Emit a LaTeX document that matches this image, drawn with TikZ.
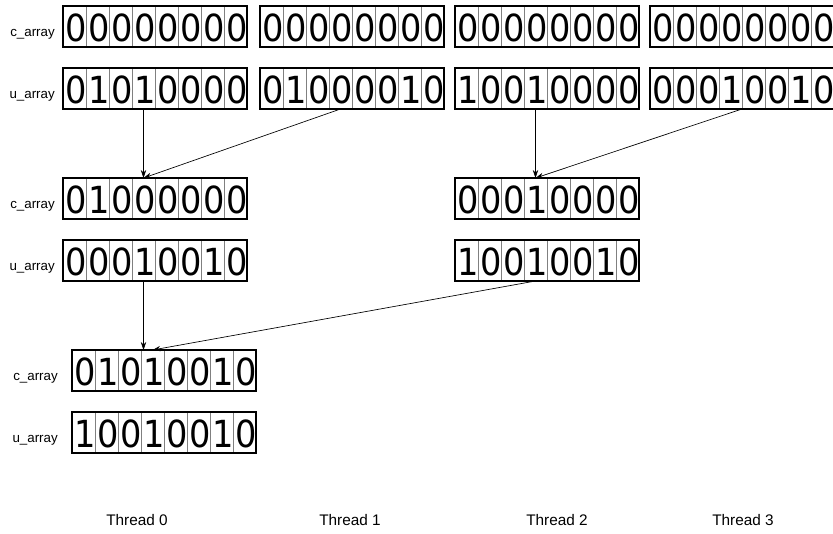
\documentclass[tikz,border=0pt]{standalone}
\usepackage{fontspec}
\setmainfont{Liberation Sans}
\newfontfamily\digitfont{DejaVu Sans}
\usepackage{graphicx}
\usetikzlibrary{positioning, arrows.meta}

\tikzset{
  bitcell/.style = {draw=gray, line width=0.6pt, minimum width=17.25pt,
                    minimum height=30.75pt, inner sep=0pt, outer sep=0pt},
  arraybox/.style = {draw, line width=1.5pt, minimum width=138pt,
                     minimum height=30.75pt, inner sep=0pt, outer sep=0pt},
  digit/.style = {inner sep=0pt, font=\digitfont\fontsize{28}{28}\selectfont},
  lbl/.style = {inner sep=0pt, yshift=-6pt, font=\fontsize{10}{12}\selectfont},
  thread/.style = {inner sep=0pt, font=\fontsize{11.5}{13}\selectfont},
  link/.style = {-{Stealth[length=6pt, width=4pt]}, line width=0.5pt},
}

% one array of 8 bits: name, left x, top y, bits
\newcommand{\bitarray}[4]{%
  \foreach \b [count=\k from 0] in {#4} {
    \node[bitcell, anchor=north west] (#1-\k) at ({#2+23*\k},#3) {};
    \node[digit, anchor=east] (#1-d\k) at ([xshift=0.8pt, yshift=-1pt]#1-\k.east) {\scalebox{0.9}[1]{\b}};
  }
  \node[arraybox, anchor=north west] (#1) at (#2,#3) {};
}

\begin{document}
\begin{tikzpicture}[x=0.75pt, y=-0.75pt]
  \useasboundingbox (0,0) rectangle (833,533);

  % first level, one pair per thread
  \bitarray{c00}{63}{6}{0,0,0,0,0,0,0,0}
  \bitarray{c01}{260}{6}{0,0,0,0,0,0,0,0}
  \bitarray{c02}{455}{6}{0,0,0,0,0,0,0,0}
  \bitarray{c03}{650}{6}{0,0,0,0,0,0,0,0}
  \bitarray{u00}{63}{68}{0,1,0,1,0,0,0,0}
  \bitarray{u01}{260}{68}{0,1,0,0,0,0,1,0}
  \bitarray{u02}{455}{68}{1,0,0,1,0,0,0,0}
  \bitarray{u03}{650}{68}{0,0,0,1,0,0,1,0}
  \node[lbl, left=6pt of c00] (lc00) {c\_array};
  \node[lbl, left=6pt of u00] (lu00) {u\_array};

  % second level
  \bitarray{c10}{63}{178}{0,1,0,0,0,0,0,0}
  \bitarray{u10}{63}{240}{0,0,0,1,0,0,1,0}
  \bitarray{c12}{455}{178}{0,0,0,1,0,0,0,0}
  \bitarray{u12}{455}{240}{1,0,0,1,0,0,1,0}
  \node[lbl, left=6pt of c10] (lc10) {c\_array};
  \node[lbl, left=6pt of u10] (lu10) {u\_array};

  % third level
  \bitarray{c20}{72}{350}{0,1,0,1,0,0,1,0}
  \bitarray{u20}{72}{412}{1,0,0,1,0,0,1,0}
  \node[lbl, left=10.5pt of c20] (lc20) {c\_array};
  \node[lbl, left=10.5pt of u20] (lu20) {u\_array};

  % merges
  \draw[link] (u00-3.south) -- (c10-3.north);
  \draw[link] (u01-3.south) -- (c10-3.north);
  \draw[link] (u02-3.south) -- (c12-3.north);
  \draw[link] (u03-3.south east) -- (c12-3.north);
  \draw[link] (u10-3.south) -- (u10-3.south |- c20.north);
  \draw[link] (u12-3.south) -- (c20-3.north);

  \node[thread] (t0) at (137,520) {Thread 0};
  \node[thread] (t1) at (350,520) {Thread 1};
  \node[thread] (t2) at (557,520) {Thread 2};
  \node[thread] (t3) at (743,520) {Thread 3};
\end{tikzpicture}
\end{document}
